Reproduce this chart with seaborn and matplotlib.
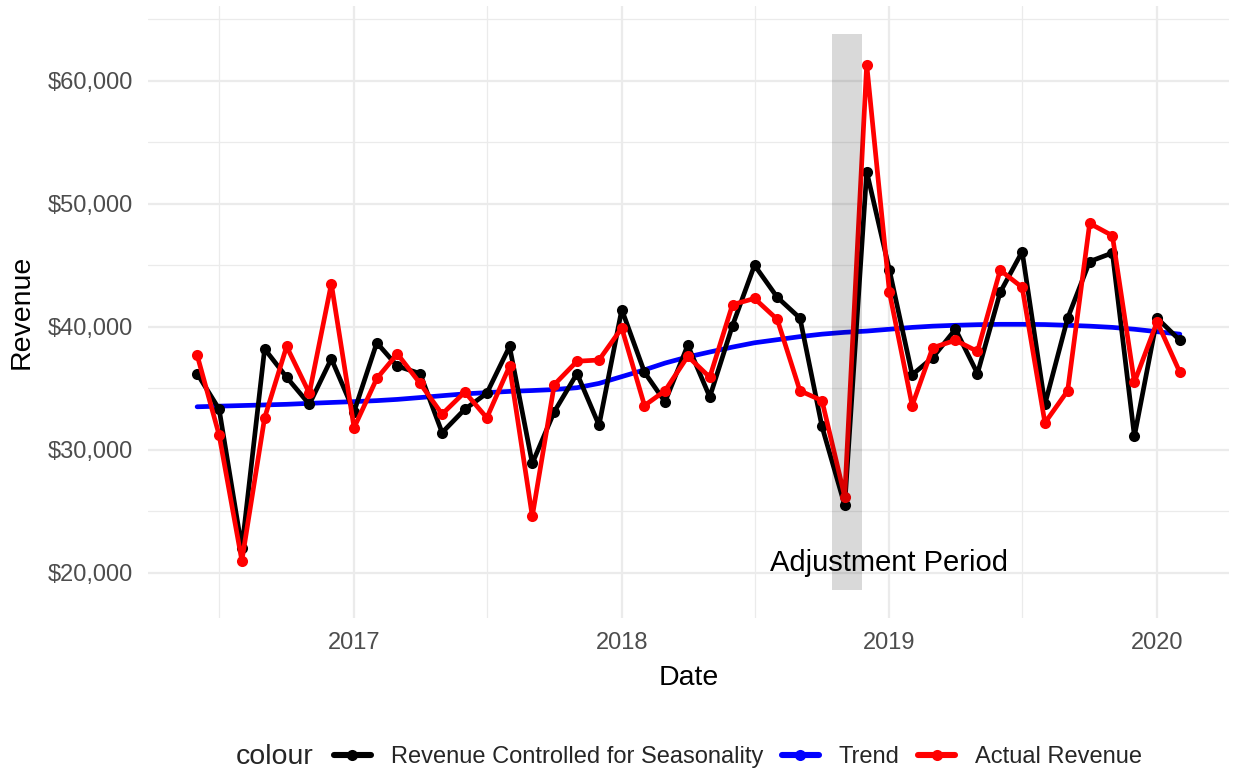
import numpy as np
import pandas as pd
import matplotlib.pyplot as plt
import matplotlib.dates as mdates
import matplotlib.ticker as mticker
from matplotlib.lines import Line2D
import seaborn as sns

# Monthly series, Jun 2016 - Feb 2020
dates = pd.date_range('2016-06-01', '2020-02-01', freq='MS')

actual = [37700, 31200, 21000, 32600, 38400, 34600, 43500, 31800, 35800, 37800,
          35400, 32900, 34700, 32600, 36800, 24600, 35300, 37200, 37300, 39900,
          33600, 34800, 37600, 35900, 41800, 42300, 40600, 34800, 34000, 26200,
          61300, 42800, 33600, 38300, 38900, 38000, 44600, 43200, 32200, 34800,
          48400, 47400, 35500, 40400, 36300]

controlled = [36200, 33300, 22000, 38200, 35900, 33700, 37400, 33100, 38700, 36800,
              36200, 31400, 33300, 34600, 38400, 28900, 33100, 36200, 32000, 41400,
              36300, 33900, 38500, 34300, 40100, 45000, 42400, 40700, 31900, 25500,
              52600, 44600, 36100, 37500, 39800, 36200, 42800, 46100, 33700, 40700,
              45300, 46000, 31100, 40700, 38900]

trend = [33500, 33550, 33600, 33650, 33700, 33780, 33850, 33920, 34000, 34100,
         34250, 34400, 34550, 34650, 34750, 34820, 34900, 35050, 35400, 35950,
         36500, 37050, 37550, 37950, 38350, 38700, 38950, 39200, 39400, 39550,
         39650, 39800, 39950, 40050, 40120, 40170, 40200, 40200, 40180, 40120,
         40050, 39950, 39800, 39600, 39400]

series_names = ['Revenue Controlled for Seasonality', 'Trend', 'Actual Revenue']
series_colors = ['black', 'blue', 'red']

adj_start = pd.Timestamp('2018-10-15')
adj_end = pd.Timestamp('2018-11-24')
adj_low, adj_high = 18600, 63800
adj_label = 'Adjustment Period'
adj_label_x = pd.Timestamp('2019-01-01')
adj_label_y = 20800

sns.set_style('white')
plt.rcParams['font.family'] = ['Liberation Sans', 'DejaVu Sans']

fig = plt.figure(figsize=(12.35, 7.74), dpi=100)
ax = fig.add_axes([148 / 1235, 1 - 618 / 774, (1229 - 148) / 1235, (618 - 6) / 774])

LW = 3.4
MS = 8
sns.lineplot(x=dates, y=trend, color='blue', ax=ax)
sns.lineplot(x=dates, y=controlled, color='black', marker='o', ax=ax)
sns.lineplot(x=dates, y=actual, color='red', marker='o', ax=ax)
for z, line in enumerate(ax.lines):
    line.set_linewidth(LW)
    line.set_markersize(MS)
    line.set_markeredgewidth(0)
    line.set_zorder(3 + z)

ax.fill_between([adj_start, adj_end], adj_low, adj_high, color='black',
                alpha=0.15, lw=0, zorder=6)
ax.text(adj_label_x, adj_label_y, adj_label, ha='center', va='center',
        fontsize=21, color='black', zorder=7)

# ggplot-like expansion
span = dates[-1] - dates[0]
ax.set_xlim(dates[0] - span * 0.05, dates[-1] + span * 0.05)
lo = min(min(actual), min(controlled), adj_low)
hi = max(max(actual), max(controlled), adj_high)
ax.set_ylim(lo - (hi - lo) * 0.05, hi + (hi - lo) * 0.05)

ax.xaxis.set_major_locator(mdates.YearLocator())
ax.xaxis.set_major_formatter(mdates.DateFormatter('%Y'))
ax.xaxis.set_minor_locator(mdates.MonthLocator(bymonth=7))
ax.yaxis.set_major_locator(mticker.MultipleLocator(10000))
ax.yaxis.set_minor_locator(mticker.MultipleLocator(5000))
ax.yaxis.set_major_formatter(mticker.StrMethodFormatter('${x:,.0f}'))

ax.grid(which='major', color='#EBEBEB', lw=1.6, zorder=0)
ax.grid(which='minor', color='#EBEBEB', lw=0.9, zorder=0)
ax.set_axisbelow(True)
for s in ax.spines.values():
    s.set_visible(False)
ax.tick_params(which='both', length=0, labelsize=17, labelcolor='#4D4D4D')
ax.tick_params(axis='y', pad=11)
ax.tick_params(axis='x', pad=10)

ax.set_xlabel('Date', fontsize=20.5, labelpad=8, color='black')
ax.set_ylabel('Revenue', fontsize=20.5, labelpad=9, color='black')

handles = [Line2D([], [], color=c, lw=LW + 1, marker='o', markersize=MS,
                  markeredgewidth=0) for c in series_colors]
fig.text(236 / 1235, 1 - 757 / 774, 'colour', fontsize=20.5, va='center', ha='left')
fig.legend(handles, series_names, loc='center left',
           bbox_to_anchor=(334 / 1235, 1 - 757 / 774), ncol=3, frameon=False,
           fontsize=17, handlelength=1.55, handletextpad=0.85, columnspacing=0.8,
           borderaxespad=0, borderpad=0)

fig.savefig('out.png', dpi=100)
